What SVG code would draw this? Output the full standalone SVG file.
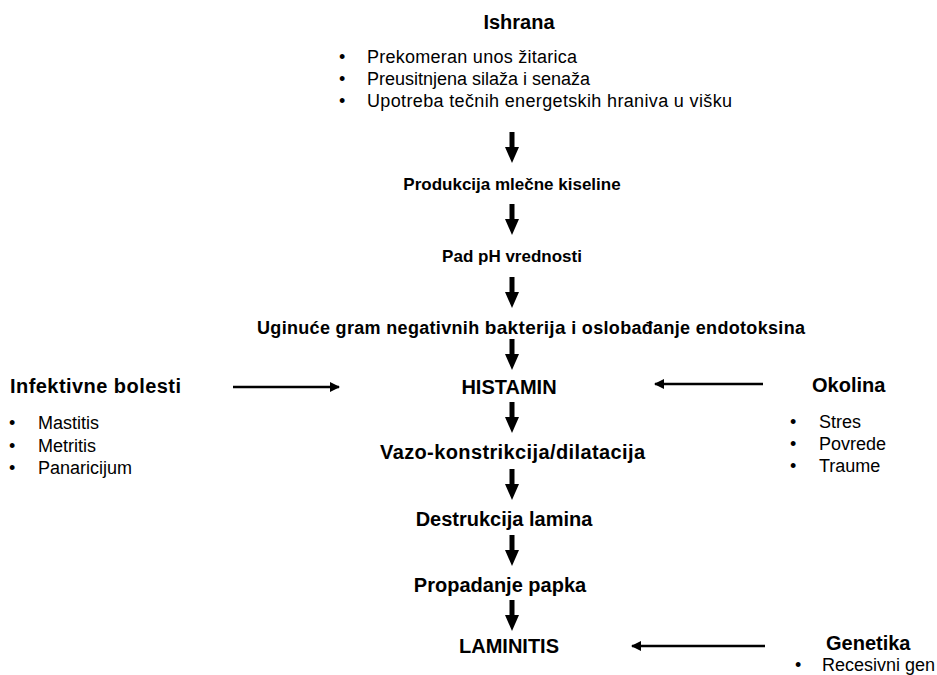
<svg xmlns="http://www.w3.org/2000/svg" width="937" height="675" viewBox="0 0 937 675">
<style>
.h{font-family:"Liberation Sans",Arial,sans-serif;font-weight:bold;font-size:20px;fill:#000}
.m{font-family:"Liberation Sans",Arial,sans-serif;font-weight:bold;font-size:17px;fill:#000}
.b{font-family:"Liberation Sans",Arial,sans-serif;font-size:18px;fill:#000}
.c{text-anchor:middle}
.ln{stroke:#000;stroke-width:2.5;fill:none}
.va{fill:#000}
</style>
<defs>
<marker id="ah" markerWidth="10" markerHeight="10" refX="9" refY="5" orient="auto" markerUnits="userSpaceOnUse">
<path d="M0,0 L10,5 L0,10 Z" fill="#000"/>
</marker>
<path id="down" d="M-2.5,0 H2.5 V15 H7 L0,31 L-7,15 H-2.5 Z"/>
</defs>
<rect width="937" height="675" fill="#fff"/>

<g id="ishrana">
<text class="h c" x="519" y="29">Ishrana</text>
<text class="b" x="339" y="63">•</text><text class="b" x="367" y="63" textLength="210">Prekomeran unos žitarica</text>
<text class="b" x="339" y="85">•</text><text class="b" x="367" y="85">Preusitnjena silaža i senaža</text>
<text class="b" x="339" y="107">•</text><text class="b" x="367" y="107" textLength="365">Upotreba tečnih energetskih hraniva u višku</text>
</g>
<g id="produkcija"><text class="m c" x="512" y="190">Produkcija mlečne kiseline</text></g>
<g id="pad"><text class="m c" x="512" y="262">Pad pH vrednosti</text></g>
<g id="uginuce"><text class="m" x="257" y="334" style="font-size:18px" textLength="548">Uginuće gram negativnih <tspan style="font-size:19px">bakterija</tspan>  i oslobađanje endotoksina</text></g>
<g id="histamin"><text class="h c" x="509" y="394">HISTAMIN</text></g>
<g id="vazo"><text class="h" x="380" y="459" textLength="265">Vazo-konstrikcija/dilatacija</text></g>
<g id="destrukcija"><text class="h c" x="504" y="526">Destrukcija lamina</text></g>
<g id="propadanje"><text class="h c" x="500" y="592">Propadanje papka</text></g>
<g id="laminitis"><text class="h c" x="509" y="653">LAMINITIS</text></g>

<g id="infektivne">
<text class="h" x="10" y="393" textLength="171">Infektivne bolesti</text>
<text class="b" x="9" y="429">•</text><text class="b" x="38" y="429">Mastitis</text>
<text class="b" x="9" y="452">•</text><text class="b" x="38" y="452">Metritis</text>
<text class="b" x="9" y="474">•</text><text class="b" x="38" y="474">Panaricijum</text>
</g>
<g id="okolina">
<text class="h" x="812" y="392">Okolina</text>
<text class="b" x="790" y="428">•</text><text class="b" x="819" y="428">Stres</text>
<text class="b" x="790" y="450">•</text><text class="b" x="819" y="450">Povrede</text>
<text class="b" x="790" y="472">•</text><text class="b" x="819" y="472">Traume</text>
</g>
<g id="genetika">
<text class="h" x="826" y="650">Genetika</text>
<text class="b" x="795" y="671">•</text><text class="b" x="822" y="671">Recesivni gen</text>
</g>

<g id="connectors">
<use href="#down" class="va" x="512" y="132"/>
<use href="#down" class="va" x="512" y="204"/>
<use href="#down" class="va" x="512" y="277"/>
<use href="#down" class="va" x="512" y="339"/>
<use href="#down" class="va" x="512" y="402"/>
<use href="#down" class="va" x="512" y="469"/>
<use href="#down" class="va" x="512" y="535"/>
<use href="#down" class="va" x="512" y="600"/>
<line class="ln" x1="233" y1="387" x2="339" y2="387" marker-end="url(#ah)"/>
<line class="ln" x1="763" y1="384" x2="655" y2="384" marker-end="url(#ah)"/>
<line class="ln" x1="765" y1="646" x2="632" y2="646" marker-end="url(#ah)"/>
</g>
</svg>
